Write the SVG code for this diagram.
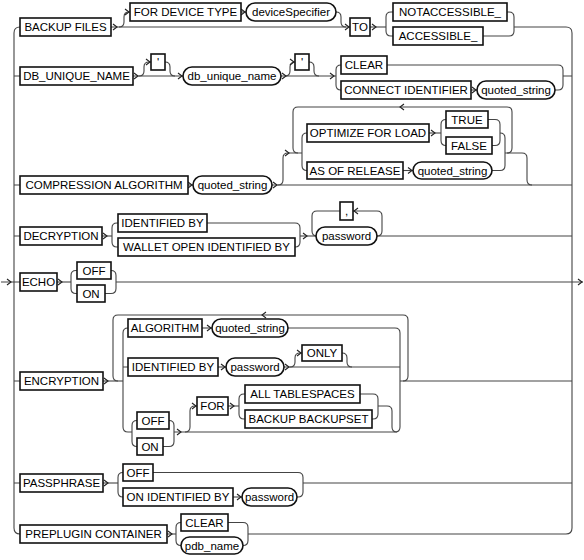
<svg xmlns="http://www.w3.org/2000/svg" width="584" height="560" viewBox="0 0 584 560">
<defs>
<style>
.c{fill:none;stroke:#444;stroke-width:1.1}
.b{fill:#fff;stroke:#111;stroke-width:1.6}
.t{font-family:"Liberation Sans",Arial,sans-serif;font-size:11.5px;fill:#000;text-anchor:middle}
.a{fill:none;stroke:#222;stroke-width:1.1}
</style>
<path id="ar" d="M-4,-3 L0,0 L-4,3"/>
<path id="al" d="M4,-3 L0,0 L4,3"/>
</defs>
<rect width="584" height="560" fill="#fff"/>
<g id="connectors" class="c">
<path d="M1,282 H14 M572,282 H583"/>
<path d="M20,27 Q14,27 14,33 V528 Q14,534 20,534"/>
<path d="M566,27 Q572,27 572,33 V528 Q572,534 566,534"/>
<path d="M14,76 H20 M14,185 H20 M14,236 H20 M14,282 H20 M14,381 H20 M14,483 H20"/>
<!-- row 1 -->
<path d="M111,27 H350"/>
<path d="M119,27 Q124,27 124,22 V17 Q124,12 129,12 H130"/>
<path d="M241,12 H246"/>
<path d="M336,12 Q341,12 341,17 V22 Q341,27 346,27"/>
<path d="M370,27 H386"/>
<path d="M391,12 Q386,12 386,17 V31 Q386,36 391,36 H393 M391,12 H393"/>
<path d="M507,12 H509 Q514,12 514,17 V31 Q514,36 509,36 H483 M514,27 H566"/>
<!-- row 2 -->
<path d="M133,76 H183"/>
<path d="M139,76 Q144,76 144,71 V67 Q144,62 149,62 H151"/>
<path d="M165,62 Q170,62 170,67 V71 Q170,76 175,76"/>
<path d="M281,76 H336"/>
<path d="M285,76 Q290,76 290,71 V67 Q290,62 295,62"/>
<path d="M309,62 Q314,62 314,67 V71 Q314,76 319,76"/>
<path d="M341,65 Q336,65 336,70 V85 Q336,90 341,90"/>
<path d="M387,65 H558 Q563,65 563,70 V85 Q563,90 558,90 H555 M563,76 H572"/>
<path d="M471,90 H477"/>
<!-- row 3 -->
<path d="M188,185 H193"/>
<path d="M272,185 H572"/>
<path d="M278,185 Q283,185 283,180 V158 Q283,153 288,153 H302"/>
<path d="M298,107 Q293,107 293,112 V148 Q293,153 298,153"/>
<path d="M507,153 Q512,153 512,148 V112 Q512,107 507,107 H298"/>
<path d="M307,133 Q302,133 302,138 V165.5 Q302,170.5 307,170.5"/>
<path d="M429,133 H441"/>
<path d="M446,119.5 Q441,119.5 441,124.5 V140.5 Q441,145.5 446,145.5"/>
<path d="M488,119.5 H495 Q500,119.5 500,124.5 V140.5 Q500,145.5 495,145.5 H492"/>
<path d="M500,133 Q505,133 505,138 V165.5 Q505,170.5 500,170.5 H492"/>
<path d="M505,153 H522 Q527,153 527,158 V180 Q527,185 532,185"/>
<path d="M403,170.5 H413"/>
<!-- row 4 -->
<path d="M102,236 H112"/>
<path d="M117,223 Q112,223 112,228 V242 Q112,247 117,247 H118 M117,223 H118"/>
<path d="M207,223 H295 Q300,223 300,228 V242 Q300,247 295,247"/>
<path d="M300,236 H316"/>
<path d="M340,211 H317 Q312,211 312,216 V231 Q312,236 317,236"/>
<path d="M377,236 Q382,236 382,231 V216 Q382,211 377,211 H353"/>
<path d="M377,236 H572"/>
<!-- row 5 -->
<path d="M57,282 H71"/>
<path d="M76,270.5 Q71,270.5 71,275.5 V288.5 Q71,293.5 76,293.5 H77 M76,270.5 H77"/>
<path d="M111,270.5 Q116,270.5 116,275.5 V288.5 Q116,293.5 111,293.5 H105"/>
<path d="M116,282 H572"/>
<!-- row 6 -->
<path d="M103,381 H123"/>
<path d="M118,315 Q113,315 113,320 V376 Q113,381 118,381"/>
<path d="M403,381 Q408,381 408,376 V320 Q408,315 403,315 H118"/>
<path d="M128,328 Q123,328 123,333 V427 Q123,432 128,432 H132 M123,367 H128"/>
<path d="M202,328 H212"/>
<path d="M288,328 H395 Q400,328 400,333 V427 Q400,432 395,432"/>
<path d="M218,367 H226"/>
<path d="M284,367 H400"/>
<path d="M290,367 Q295,367 295,362 V358 Q295,353 300,353 H302"/>
<path d="M342,353 Q347,353 347,358 V362 Q347,367 352,367"/>
<path d="M137,420.5 Q132,420.5 132,425.5 V441.5 Q132,446.5 137,446.5"/>
<path d="M169,420.5 Q174,420.5 174,425.5 V441.5 Q174,446.5 169,446.5 H163"/>
<path d="M174,432 H395"/>
<path d="M185,432 Q190,432 190,427 V411 Q190,406 195,406 H197"/>
<path d="M228,406 H239"/>
<path d="M244,394 Q239,394 239,399 V414 Q239,419 244,419 H245 M244,394 H245"/>
<path d="M360,394 H373 Q378,394 378,399 V414 Q378,419 373,419 H372"/>
<path d="M378,406 H387 Q392,406 392,411 V427 Q392,432 397,432"/>
<path d="M400,381 H572"/>
<!-- row 7 -->
<path d="M103,483 H118"/>
<path d="M123,472.5 Q118,472.5 118,477.5 V492 Q118,497 123,497"/>
<path d="M153,472.5 H298 Q303,472.5 303,477.5 V492 Q303,497 298,497 H297"/>
<path d="M233,497 H242"/>
<path d="M303,483 H572"/>
<!-- row 8 -->
<path d="M167,534 H176"/>
<path d="M181,522.5 Q176,522.5 176,527.5 V540.5 Q176,545.5 181,545.5"/>
<path d="M228,522.5 H243 Q248,522.5 248,527.5 V540.5 Q248,545.5 243,545.5"/>
<path d="M248,534 H566"/>
<!-- arrowheads -->
<g class="a">
<use href="#ar" x="11" y="282"/><use href="#ar" x="582" y="282"/>
<use href="#ar" x="117" y="27"/><use href="#ar" x="129" y="12"/><use href="#ar" x="245" y="12"/><use href="#ar" x="349" y="27"/><use href="#ar" x="376" y="27"/>
<use href="#ar" x="138" y="76"/><use href="#ar" x="150" y="62"/><use href="#ar" x="182" y="76"/><use href="#ar" x="286" y="76"/><use href="#ar" x="294" y="62"/><use href="#ar" x="334" y="76"/><use href="#ar" x="476" y="90"/>
<use href="#ar" x="192" y="185"/><use href="#ar" x="277" y="185"/><use href="#ar" x="289" y="153"/><use href="#al" x="400" y="107"/><use href="#ar" x="435" y="133"/><use href="#ar" x="412" y="170.5"/>
<use href="#ar" x="107" y="236"/><use href="#ar" x="307" y="236"/><use href="#al" x="354" y="211"/>
<use href="#ar" x="62" y="282"/>
<use href="#ar" x="108" y="381"/><use href="#al" x="262" y="315"/><use href="#ar" x="211" y="328"/><use href="#ar" x="225" y="367"/><use href="#ar" x="289" y="367"/><use href="#ar" x="301" y="353"/><use href="#ar" x="181" y="432"/><use href="#ar" x="196" y="406"/><use href="#ar" x="234" y="406"/>
<use href="#ar" x="108" y="483"/><use href="#ar" x="241" y="497"/>
<use href="#ar" x="172" y="534"/>
</g>
</g>
<g id="n-backup-files"><rect class="b" x="20" y="18" width="91" height="18"/><text class="t" x="65.5" y="31">BACKUP FILES</text></g>
<g id="n-for-device-type"><rect class="b" x="130" y="3" width="111" height="18"/><text class="t" x="185.5" y="16">FOR DEVICE TYPE</text></g>
<g id="n-devicespecifier"><rect class="b" x="246" y="3" width="90" height="18" rx="9"/><text class="t" x="291" y="16">deviceSpecifier</text></g>
<g id="n-to"><rect class="b" x="350" y="18" width="20" height="18"/><text class="t" x="360" y="31">TO</text></g>
<g id="n-notaccessible"><rect class="b" x="393" y="3" width="114" height="18"/><text class="t" x="450" y="16">NOTACCESSIBLE_</text></g>
<g id="n-accessible"><rect class="b" x="393" y="27" width="90" height="18"/><text class="t" x="438" y="40">ACCESSIBLE_</text></g>
<g id="n-db-unique-name-kw"><rect class="b" x="20" y="67" width="113" height="18"/><text class="t" x="76.5" y="80">DB_UNIQUE_NAME</text></g>
<g id="n-quote-1"><rect class="b" x="151" y="54" width="14" height="16"/><text class="t" x="158" y="66">'</text></g>
<g id="n-db-unique-name"><rect class="b" x="183" y="67" width="98" height="18" rx="9"/><text class="t" x="232" y="80">db_unique_name</text></g>
<g id="n-quote-2"><rect class="b" x="295" y="54" width="14" height="16"/><text class="t" x="302" y="66">'</text></g>
<g id="n-clear-1"><rect class="b" x="341" y="56" width="46" height="18"/><text class="t" x="364" y="69">CLEAR</text></g>
<g id="n-connect-identifier"><rect class="b" x="341" y="81" width="130" height="18"/><text class="t" x="406" y="94">CONNECT IDENTIFIER</text></g>
<g id="n-quoted-string-1"><rect class="b" x="477" y="81" width="78" height="18" rx="9"/><text class="t" x="516" y="94">quoted_string</text></g>
<g id="n-compression-algorithm"><rect class="b" x="20" y="176" width="168" height="18"/><text class="t" x="104" y="189">COMPRESSION ALGORITHM</text></g>
<g id="n-quoted-string-2"><rect class="b" x="193" y="176" width="79" height="18" rx="9"/><text class="t" x="232.5" y="189">quoted_string</text></g>
<g id="n-optimize-for-load"><rect class="b" x="307" y="124" width="122" height="18"/><text class="t" x="368" y="137">OPTIMIZE FOR LOAD</text></g>
<g id="n-true"><rect class="b" x="446" y="111" width="42" height="17"/><text class="t" x="467" y="123.5">TRUE</text></g>
<g id="n-false"><rect class="b" x="446" y="137" width="46" height="17"/><text class="t" x="469" y="149.5">FALSE</text></g>
<g id="n-as-of-release"><rect class="b" x="307" y="162" width="96" height="17"/><text class="t" x="355" y="174.5">AS OF RELEASE</text></g>
<g id="n-quoted-string-3"><rect class="b" x="413" y="162" width="79" height="17" rx="8.5"/><text class="t" x="452.5" y="174.5">quoted_string</text></g>
<g id="n-decryption"><rect class="b" x="20" y="227" width="82" height="18"/><text class="t" x="61" y="240">DECRYPTION</text></g>
<g id="n-identified-by-1"><rect class="b" x="118" y="214" width="89" height="18"/><text class="t" x="162.5" y="227">IDENTIFIED BY</text></g>
<g id="n-wallet-open"><rect class="b" x="118" y="238" width="177" height="18"/><text class="t" x="206.5" y="251">WALLET OPEN IDENTIFIED BY</text></g>
<g id="n-comma"><rect class="b" x="340" y="202" width="13" height="18"/><text class="t" x="346.5" y="215">,</text></g>
<g id="n-password-1"><rect class="b" x="316" y="227" width="61" height="18" rx="9"/><text class="t" x="346.5" y="240">password</text></g>
<g id="n-echo"><rect class="b" x="20" y="273" width="37" height="18"/><text class="t" x="38.5" y="286">ECHO</text></g>
<g id="n-off-1"><rect class="b" x="77" y="262" width="34" height="17"/><text class="t" x="94" y="274.5">OFF</text></g>
<g id="n-on-1"><rect class="b" x="77" y="285" width="28" height="17"/><text class="t" x="91" y="297.5">ON</text></g>
<g id="n-encryption"><rect class="b" x="20" y="372" width="83" height="18"/><text class="t" x="61.5" y="385">ENCRYPTION</text></g>
<g id="n-algorithm"><rect class="b" x="128" y="319" width="74" height="18"/><text class="t" x="165" y="332">ALGORITHM</text></g>
<g id="n-quoted-string-4"><rect class="b" x="212" y="319" width="76" height="18" rx="9"/><text class="t" x="250" y="332">quoted_string</text></g>
<g id="n-identified-by-2"><rect class="b" x="128" y="358" width="90" height="18"/><text class="t" x="173" y="371">IDENTIFIED BY</text></g>
<g id="n-password-2"><rect class="b" x="226" y="358" width="58" height="18" rx="9"/><text class="t" x="255" y="371">password</text></g>
<g id="n-only"><rect class="b" x="302" y="345" width="40" height="16"/><text class="t" x="322" y="357">ONLY</text></g>
<g id="n-off-2"><rect class="b" x="137" y="412" width="32" height="17"/><text class="t" x="153" y="424.5">OFF</text></g>
<g id="n-on-2"><rect class="b" x="137" y="438" width="26" height="17"/><text class="t" x="150" y="450.5">ON</text></g>
<g id="n-for"><rect class="b" x="197" y="397" width="31" height="18"/><text class="t" x="212.5" y="410">FOR</text></g>
<g id="n-all-tablespaces"><rect class="b" x="245" y="385" width="115" height="18"/><text class="t" x="302.5" y="398">ALL TABLESPACES</text></g>
<g id="n-backup-backupset"><rect class="b" x="245" y="410" width="127" height="18"/><text class="t" x="308.5" y="423">BACKUP BACKUPSET</text></g>
<g id="n-passphrase"><rect class="b" x="20" y="474" width="83" height="18"/><text class="t" x="61.5" y="487">PASSPHRASE</text></g>
<g id="n-off-3"><rect class="b" x="123" y="464" width="30" height="17"/><text class="t" x="138" y="476.5">OFF</text></g>
<g id="n-on-identified-by"><rect class="b" x="123" y="488" width="110" height="18"/><text class="t" x="178" y="501">ON IDENTIFIED BY</text></g>
<g id="n-password-3"><rect class="b" x="242" y="488" width="55" height="18" rx="9"/><text class="t" x="269.5" y="501">password</text></g>
<g id="n-preplugin-container"><rect class="b" x="20" y="525" width="147" height="18"/><text class="t" x="93.5" y="538">PREPLUGIN CONTAINER</text></g>
<g id="n-clear-2"><rect class="b" x="181" y="514" width="47" height="17"/><text class="t" x="204.5" y="526.5">CLEAR</text></g>
<g id="n-pdb-name"><rect class="b" x="181" y="537" width="62" height="17" rx="8.5"/><text class="t" x="212" y="549.5">pdb_name</text></g>
</svg>
